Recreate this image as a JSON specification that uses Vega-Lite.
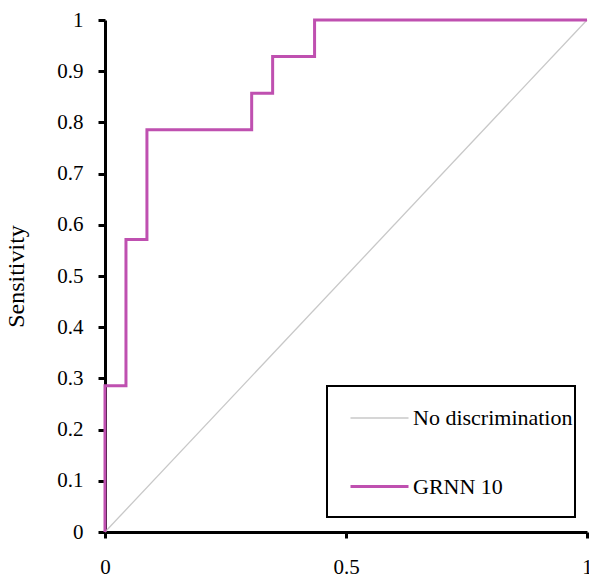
{
  "$schema": "https://vega.github.io/schema/vega-lite/v6.json",
  "width": 482,
  "height": 512,
  "autosize": "none",
  "padding": {"left": 105, "top": 20, "right": 2, "bottom": 49},
  "background": "white",
  "config": {
    "view": {"stroke": null},
    "font": "Liberation Serif",
    "axis": {"grid": false, "domainColor": "black", "domainWidth": 3, "tickColor": "black", "tickWidth": 3, "labelColor": "black", "labelFont": "Liberation Serif", "labelFontSize": 21, "titleFont": "Liberation Serif", "titleColor": "black"}
  },
  "data": {
    "values": [
      {"series": "No discrimination", "i": 0, "fpr": 0, "tpr": 0},
      {"series": "No discrimination", "i": 1, "fpr": 1, "tpr": 1},
      {"series": "GRNN 10", "i": 0, "fpr": 0, "tpr": 0},
      {"series": "GRNN 10", "i": 1, "fpr": 0, "tpr": 0.2857},
      {"series": "GRNN 10", "i": 2, "fpr": 0.0435, "tpr": 0.2857},
      {"series": "GRNN 10", "i": 3, "fpr": 0.0435, "tpr": 0.5714},
      {"series": "GRNN 10", "i": 4, "fpr": 0.087, "tpr": 0.5714},
      {"series": "GRNN 10", "i": 5, "fpr": 0.087, "tpr": 0.7857},
      {"series": "GRNN 10", "i": 6, "fpr": 0.3043, "tpr": 0.7857},
      {"series": "GRNN 10", "i": 7, "fpr": 0.3043, "tpr": 0.8571},
      {"series": "GRNN 10", "i": 8, "fpr": 0.3478, "tpr": 0.8571},
      {"series": "GRNN 10", "i": 9, "fpr": 0.3478, "tpr": 0.9286},
      {"series": "GRNN 10", "i": 10, "fpr": 0.4348, "tpr": 0.9286},
      {"series": "GRNN 10", "i": 11, "fpr": 0.4348, "tpr": 1},
      {"series": "GRNN 10", "i": 12, "fpr": 1, "tpr": 1}
    ]
  },
  "mark": {"type": "line", "clip": false},
  "encoding": {
    "x": {"field": "fpr", "type": "quantitative", "scale": {"domain": [0, 1], "nice": false},
          "axis": {"title": null, "values": [0, 0.5, 1], "format": "~g", "tickSize": 6, "labelPadding": 18, "labelFlush": false}},
    "y": {"field": "tpr", "type": "quantitative", "scale": {"domain": [0, 1], "nice": false},
          "axis": {"title": "Sensitivity", "titleFontSize": 24, "titleFontWeight": "normal", "titlePadding": 28, "values": [0, 0.1, 0.2, 0.3, 0.4, 0.5, 0.6, 0.7, 0.8, 0.9, 1], "format": "~g", "tickSize": 7, "labelPadding": 15}},
    "order": {"field": "i", "type": "quantitative"},
    "color": {"field": "series", "type": "nominal",
              "scale": {"domain": ["No discrimination", "GRNN 10"], "range": ["#c8c8c8", "#bf50b0"]},
              "legend": {"title": " ", "titleOrient": "bottom", "titleFontSize": 10, "titlePadding": 7,
                         "orient": "none", "legendX": 222, "legendY": 366,
                         "symbolType": "stroke", "symbolSize": 3364, "symbolOffset": 20, "labelOffset": 3,
                         "labelFont": "Liberation Serif", "labelFontSize": 22, "labelColor": "black",
                         "strokeColor": "black", "padding": 2, "rowPadding": 27,
                         "encode": {"legend": {"update": {"strokeWidth": {"value": 2}}}}}},
    "strokeWidth": {"field": "series", "type": "nominal",
                    "scale": {"domain": ["No discrimination", "GRNN 10"], "range": [1.3, 3]},
                    "legend": null}
  }
}
